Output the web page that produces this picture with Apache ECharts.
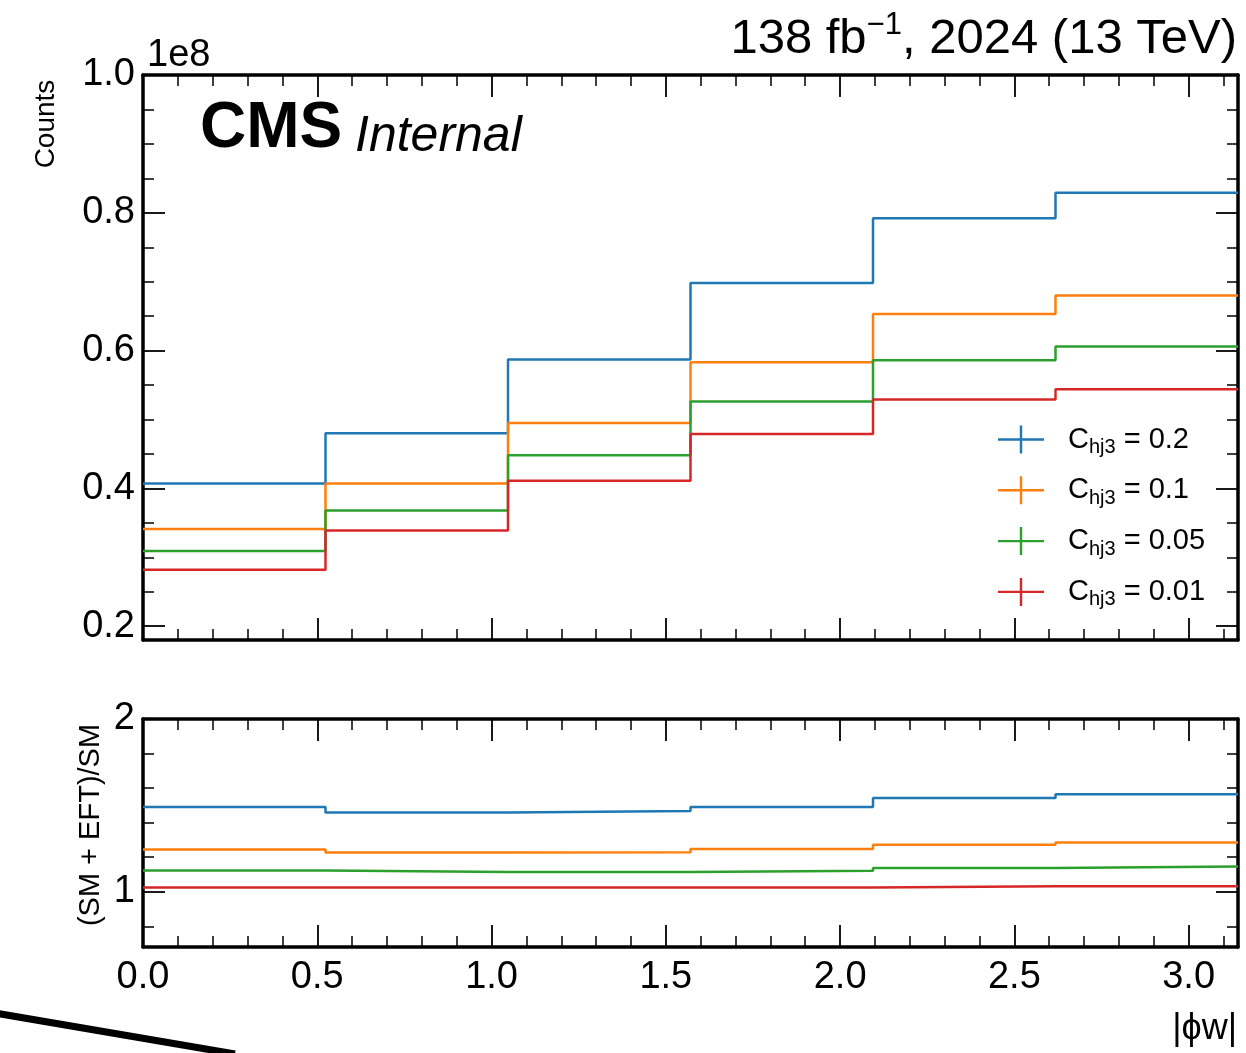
<!DOCTYPE html>
<html>
<head>
<meta charset="utf-8">
<script src="https://cdn.jsdelivr.net/npm/echarts@6/dist/echarts.min.js"></script>
<style>
html,body{margin:0;padding:0;background:#fff;}
#chart{width:1246px;height:1053px;}
</style>
</head>
<body>
<div id="chart"></div>
<script>
// ---- data ----
const binEdges = [0, 0.5236, 1.0472, 1.5708, 2.0944, 2.618, 3.1416];
const seriesNames = ['C_hj3 = 0.2', 'C_hj3 = 0.1', 'C_hj3 = 0.05', 'C_hj3 = 0.01'];
const coeffLabels = ['0.2', '0.1', '0.05', '0.01'];
// counts in units of 1e8
const countsC02  = [0.407, 0.480, 0.587, 0.698, 0.792, 0.829];
const countsC01  = [0.341, 0.407, 0.495, 0.583, 0.653, 0.680];
const countsC005 = [0.309, 0.368, 0.448, 0.526, 0.586, 0.606];
const countsC001 = [0.282, 0.339, 0.411, 0.479, 0.529, 0.544];
// ratio (SM + EFT)/SM
const ratioC02  = [1.491, 1.458, 1.468, 1.491, 1.542, 1.565];
const ratioC01  = [1.245, 1.227, 1.229, 1.247, 1.272, 1.285];
const ratioC005 = [1.123, 1.114, 1.114, 1.121, 1.137, 1.146];
const ratioC001 = [1.024, 1.024, 1.024, 1.024, 1.031, 1.031];
// ticks
const xMajorTicks = [0.0, 0.5, 1.0, 1.5, 2.0, 2.5, 3.0];
const xMinorTicks = [0.1,0.2,0.3,0.4,0.6,0.7,0.8,0.9,1.1,1.2,1.3,1.4,1.6,1.7,1.8,1.9,2.1,2.2,2.3,2.4,2.6,2.7,2.8,2.9,3.1];
const yMajorTicksTop = [0.2, 0.4, 0.6, 0.8, 1.0];
const yMinorTicksTop = [0.25,0.3,0.35,0.45,0.5,0.55,0.65,0.7,0.75,0.85,0.9,0.95];
const yMajorTicksRatio = [1, 2];
const yMinorTicksRatio = [0.8, 1.2, 1.4, 1.6, 1.8];
const colors = ['#1f77b4', '#ff7f0e', '#2ca02c', '#d62728'];

const countsAll = [countsC02, countsC01, countsC005, countsC001];
const ratioAll = [ratioC02, ratioC01, ratioC005, ratioC001];

const FONT = "'Liberation Sans', Arial, Helvetica, sans-serif";
const XMIN = 0, XMAX = binEdges[binEdges.length - 1];

function stepData(vals) {
  const d = vals.map((v, i) => [binEdges[i], v]);
  d.push([binEdges[binEdges.length - 1], vals[vals.length - 1]]);
  return d;
}

function xAxisPair(gridIndex, position, withLabels) {
  const major = {
    type: 'value', gridIndex, position, min: XMIN, max: XMAX,
    axisLine: { show: true, onZero: false, lineStyle: { color: '#000', width: 3.5 } },
    axisTick: { show: true, inside: true, length: 22, customValues: xMajorTicks, lineStyle: { color: '#000', width: 1.8 } },
    axisLabel: withLabels ? { show: true, customValues: xMajorTicks, margin: 12, color: '#000', fontSize: 38, fontFamily: FONT, formatter: v => v.toFixed(1) } : { show: false },
    splitLine: { show: false }
  };
  const minor = {
    type: 'value', gridIndex, position, min: XMIN, max: XMAX,
    axisLine: { show: false, onZero: false },
    axisTick: { show: true, inside: true, length: 11, customValues: xMinorTicks, lineStyle: { color: '#000', width: 1.5 } },
    axisLabel: { show: false }, splitLine: { show: false }
  };
  return [major, minor];
}

function yAxisPair(gridIndex, position, min, max, majors, minors, withLabels, fmt) {
  const major = {
    type: 'value', gridIndex, position, min, max,
    axisLine: { show: true, onZero: false, lineStyle: { color: '#000', width: 3.5 } },
    axisTick: { show: true, inside: true, length: 22, customValues: majors, lineStyle: { color: '#000', width: 1.8 } },
    axisLabel: withLabels ? { show: true, customValues: majors, margin: 8, color: '#000', fontSize: 38, fontFamily: FONT, formatter: fmt } : { show: false },
    splitLine: { show: false }
  };
  const minor = {
    type: 'value', gridIndex, position, min, max,
    axisLine: { show: false, onZero: false },
    axisTick: { show: true, inside: true, length: 11, customValues: minors, lineStyle: { color: '#000', width: 1.5 } },
    axisLabel: { show: false }, splitLine: { show: false }
  };
  return [major, minor];
}

const xAxes = [].concat(
  xAxisPair(0, 'bottom', false), // 0,1
  xAxisPair(0, 'top', false),    // 2,3
  xAxisPair(1, 'bottom', true),  // 4,5
  xAxisPair(1, 'top', false)     // 6,7
);
const fmtTop = v => v.toFixed(1);
const fmtRatio = v => String(v);
const yAxes = [].concat(
  yAxisPair(0, 'left', 0.18, 1.0, yMajorTicksTop, yMinorTicksTop, true, fmtTop),   // 0,1
  yAxisPair(0, 'right', 0.18, 1.0, yMajorTicksTop, yMinorTicksTop, false),          // 2,3
  yAxisPair(1, 'left', 0.68, 2.0, yMajorTicksRatio, yMinorTicksRatio, true, fmtRatio), // 4,5
  yAxisPair(1, 'right', 0.68, 2.0, yMajorTicksRatio, yMinorTicksRatio, false)       // 6,7
);

const series = [];
countsAll.forEach((vals, i) => {
  series.push({
    name: seriesNames[i], type: 'line', step: 'end', xAxisIndex: 0, yAxisIndex: 0,
    data: stepData(vals), symbol: 'none', showSymbol: false,
    lineStyle: { color: colors[i], width: 2.5 }, itemStyle: { color: colors[i] },
    z: 3
  });
});
ratioAll.forEach((vals, i) => {
  series.push({
    name: seriesNames[i], type: 'line', step: 'end', xAxisIndex: 4, yAxisIndex: 4,
    data: stepData(vals), symbol: 'none', showSymbol: false,
    lineStyle: { color: colors[i], width: 2.5 }, itemStyle: { color: colors[i] },
    z: 3
  });
});

const crossIcon = 'path://M0,12.8 L46,12.8 L46,15.2 L0,15.2 Z M21.8,0 L24.2,0 L24.2,28 L21.8,28 Z';

const option = {
  animation: false,
  backgroundColor: '#ffffff',
  grid: [
    { left: 143, right: 8, top: 75, height: 565 },
    { left: 143, right: 8, top: 719, height: 228 }
  ],
  xAxis: xAxes,
  yAxis: yAxes,
  legend: {
    orient: 'vertical', left: 993, top: 420,
    itemWidth: 46, itemHeight: 28, itemGap: 18.3,
    icon: crossIcon, selectedMode: false,
    data: seriesNames.map((n, i) => ({ name: n, itemStyle: { color: colors[i], borderWidth: 0 } })),
    formatter: name => {
      const i = seriesNames.indexOf(name);
      return '{g| }{c|C}{s|hj3}{c| = ' + coeffLabels[i] + '}';
    },
    textStyle: {
      color: '#000', fontFamily: FONT, fontSize: 29,
      rich: {
        g: { width: 19, fontSize: 29, lineHeight: 36 },
        c: { fontSize: 29, fontFamily: FONT, color: '#000', lineHeight: 36, verticalAlign: 'middle' },
        s: { fontSize: 20, fontFamily: FONT, color: '#000', lineHeight: 36, verticalAlign: 'bottom' }
      }
    }
  },
  graphic: [
    { type: 'text', x: 1237, y: 39, z: 10,
      style: { text: '{m|138 fb}{s|−1}{m|, 2024 (13 TeV)}', align: 'right', verticalAlign: 'middle',
        rich: {
          m: { fontSize: 49, fontFamily: FONT, fill: '#000', lineHeight: 58, verticalAlign: 'middle' },
          s: { fontSize: 31, fontFamily: FONT, fill: '#000', lineHeight: 58, verticalAlign: 'top' }
        } } },
    { type: 'text', x: 200, y: 129, z: 10,
      style: { text: 'CMS', fontSize: 64, fontWeight: 'bold', fontFamily: FONT, fill: '#000', align: 'left', verticalAlign: 'middle' } },
    { type: 'text', x: 355, y: 137, z: 10,
      style: { text: 'Internal', fontSize: 50, fontStyle: 'italic', fontFamily: FONT, fill: '#000', align: 'left', verticalAlign: 'middle' } },
    { type: 'text', x: 147, y: 56, z: 10,
      style: { text: '1e8', fontSize: 38, fontFamily: FONT, fill: '#000', align: 'left', verticalAlign: 'middle' } },
    { type: 'text', x: 46, y: 124, rotation: Math.PI / 2, z: 10,
      style: { text: 'Counts', fontSize: 28, fontFamily: FONT, fill: '#000', align: 'center', verticalAlign: 'middle' } },
    { type: 'text', x: 91, y: 825, rotation: Math.PI / 2, z: 10,
      style: { text: '(SM + EFT)/SM', fontSize: 29, fontFamily: FONT, fill: '#000', align: 'center', verticalAlign: 'middle' } },
    { type: 'text', x: 1237, y: 1029, z: 10,
      style: { text: '|ϕw|', fontSize: 36, fontFamily: FONT, fill: '#000', align: 'right', verticalAlign: 'middle' } },
    { type: 'line', z: 10,
      shape: { x1: -5, y1: 1013, x2: 235, y2: 1054 },
      style: { stroke: '#000', lineWidth: 7 } }
  ],
  series
};

const chart = echarts.init(document.getElementById('chart'), null, { renderer: 'canvas' });
chart.setOption(option);
</script>
</body>
</html>
